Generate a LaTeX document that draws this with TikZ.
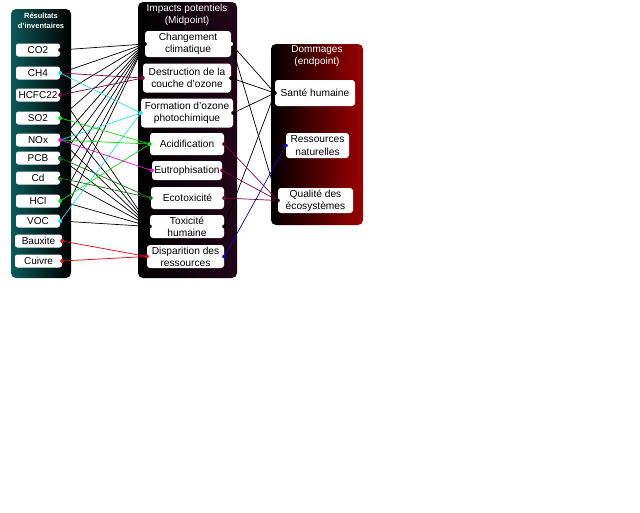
\documentclass[tikz,border=0pt]{standalone}
\usepackage{fontspec}
\setmainfont{Liberation Sans}
\definecolor{tealA}{RGB}{14,105,105}
\definecolor{mpurple}{RGB}{140,25,95}
\definecolor{dred}{RGB}{155,0,0}
\definecolor{cCyan}{RGB}{40,225,230}
\definecolor{cMaroon}{RGB}{115,10,60}
\definecolor{cGreen}{RGB}{20,220,20}
\definecolor{cMag}{RGB}{225,20,225}
\definecolor{cDGreen}{RGB}{20,120,30}
\definecolor{cRed}{RGB}{215,10,20}
\definecolor{cBlue}{RGB}{10,10,200}
\begin{document}
\begin{tikzpicture}[x=1pt,y=-1pt,
  lbox/.style={fill=white, rounded corners=2.5pt, inner sep=0pt, minimum width=44pt, minimum height=13pt, font=\fontsize{10}{12}\selectfont},
  mbox/.style={fill=white, rounded corners=3pt, inner sep=0pt, align=center, font=\fontsize{10.2}{12.2}\selectfont},
  ttl/.style={text=white, align=center, inner sep=0pt},
  ln/.style={line width=0.7pt},
  pdot/.style={circle, fill=#1, inner sep=0pt, minimum size=4pt},
]
\useasboundingbox[fill=white] (0,0) rectangle (640,512);

% panels
\shade[rounded corners=5pt, left color=tealA!85!black, middle color=tealA!75!black, right color=black] (11,9) rectangle (71,278);
\shade[rounded corners=5pt, left color=black, middle color=mpurple, right color=mpurple!25!black] (138,2) rectangle (237,278);
\shade[rounded corners=5pt, left color=black, right color=dred] (271,44) rectangle (363,225);

% titles
\node[ttl, font=\bfseries\fontsize{7.5}{10}\selectfont] (t1) at (41,21) {Résultats\\d'inventaires};
\node[ttl, font=\fontsize{10}{11.5}\selectfont] (t2) at (187,15) {Impacts potentiels\\(Midpoint)};
\node[ttl, font=\fontsize{10}{12}\selectfont] (t3) at (317,56) {Dommages\\(endpoint)};

% left boxes
\node[lbox] (co2) at (38,50) {CO2};
\node[lbox] (ch4) at (38,73) {CH4};
\node[lbox] (hcfc) at (38,95) {HCFC22};
\node[lbox] (so2) at (38,118) {SO2};
\node[lbox] (nox) at (38,140) {NOx};
\node[lbox] (pcb) at (38,158) {PCB};
\node[lbox] (cd) at (38,178) {Cd};
\node[lbox] (hcl) at (38,201) {HCl};
\node[lbox] (voc) at (38,221) {VOC};
\node[lbox, minimum width=47pt] (baux) at (38.5,241) {Bauxite};
\node[lbox, minimum width=47pt] (cuiv) at (38.5,261) {Cuivre};

% middle boxes
\node[mbox, minimum width=86pt, minimum height=26pt] (cc) at (188,44) {Changement\\climatique};
\node[mbox, minimum width=88pt, minimum height=29pt] (ozd) at (187,78) {Destruction de la\\couche d'ozone};
\node[mbox, minimum width=92pt, minimum height=29pt] (pof) at (187,113) {Formation d'ozone\\photochimique};
\node[mbox, minimum width=74pt, minimum height=22pt] (acid) at (187,144) {Acidification};
\node[mbox, minimum width=70pt, minimum height=19pt] (eut) at (187,170.5) {Eutrophisation};
\node[mbox, minimum width=73pt, minimum height=22pt] (eco) at (187.5,198) {Ecotoxicité};
\node[mbox, minimum width=74pt, minimum height=23pt] (tox) at (187,226.5) {Toxicité\\humaine};
\node[mbox, minimum width=77pt, minimum height=23pt] (res) at (185.5,256.5) {Disparition des\\ressources};

% right boxes
\node[mbox, minimum width=80pt, minimum height=26pt] (sh) at (315,93) {Santé humaine};
\node[mbox, minimum width=63pt, minimum height=25pt] (rn) at (317.5,145.5) {Ressources\\naturelles};
\node[mbox, minimum width=75pt, minimum height=25pt] (qe) at (315.5,200.5) {Qualité des\\écosystèmes};

% connectors left -> middle
\foreach \s in {co2,ch4,hcfc,so2,nox,pcb,cd,hcl,voc}
  \draw[ln, black] (\s.east) -- (cc.west);
\foreach \s in {hcfc,so2,nox,pcb,cd,hcl,voc}
  \draw[ln, black] (\s.east) -- (tox.west);
\foreach \s in {ch4,hcfc}
  \draw[ln, cMaroon] (\s.east) -- (ozd.west);
\foreach \s in {ch4,nox,voc}
  \draw[ln, cCyan] (\s.east) -- (pof.west);
\foreach \s in {so2,nox,hcl}
  \draw[ln, cGreen] (\s.east) -- (acid.west);
\draw[ln, cMag] (nox.east) -- (eut.west);
\foreach \s in {pcb,cd}
  \draw[ln, cDGreen] (\s.east) -- (eco.west);
\foreach \s in {baux,cuiv}
  \draw[ln, cRed] (\s.east) -- (res.west);

% connectors middle -> right
\foreach \s in {cc,ozd,pof,tox}
  \draw[ln, black] (\s.east) -- (sh.west);
\draw[ln, black] (cc.east) -- (qe.west);
\foreach \s in {acid,eut,eco}
  \draw[ln, cMaroon] (\s.east) -- (qe.west);
\draw[ln, cBlue] (res.east) -- (rn.west);

% port dots
\foreach \s in {co2,pcb,cd}
  \node[pdot=black] at (\s.east) {};
\node[pdot=cCyan] at (ch4.east) {};
\node[pdot=cMaroon] at (hcfc.east) {};
\node[pdot=cGreen] at (so2.east) {};
\node[pdot=cMag] at (nox.east) {};
\node[pdot=cDGreen] at ([yshift=-1pt]pcb.east) {};
\node[pdot=cDGreen] at ([yshift=-1pt]cd.east) {};
\node[pdot=cGreen] at (hcl.east) {};
\node[pdot=cCyan] at (voc.east) {};
\node[pdot=cRed] at (baux.east) {};
\node[pdot=cRed] at (cuiv.east) {};
\node[pdot=cMaroon] at (ozd.west) {};
\node[pdot=cCyan] at (pof.west) {};
\node[pdot=cGreen] at (acid.west) {};
\node[pdot=cMag] at (eut.west) {};
\node[pdot=cDGreen] at (eco.west) {};
\node[pdot=cRed] at (res.west) {};
\node[pdot=black] at (cc.west) {};
\node[pdot=black] at (tox.west) {};
\node[pdot=white] at (cc.east) {};
\node[pdot=black] at (ozd.east) {};
\node[pdot=black] at (pof.east) {};
\node[pdot=cMaroon!70!black] at (acid.east) {};
\node[pdot=cMaroon] at (eut.east) {};
\node[pdot=cMaroon] at (eco.east) {};
\node[pdot=black] at (tox.east) {};
\node[pdot=cBlue] at (res.east) {};
\node[pdot=black] at (sh.west) {};
\node[pdot=cBlue] at (rn.west) {};
\node[pdot=black] at (qe.west) {};
\end{tikzpicture}
\end{document}
